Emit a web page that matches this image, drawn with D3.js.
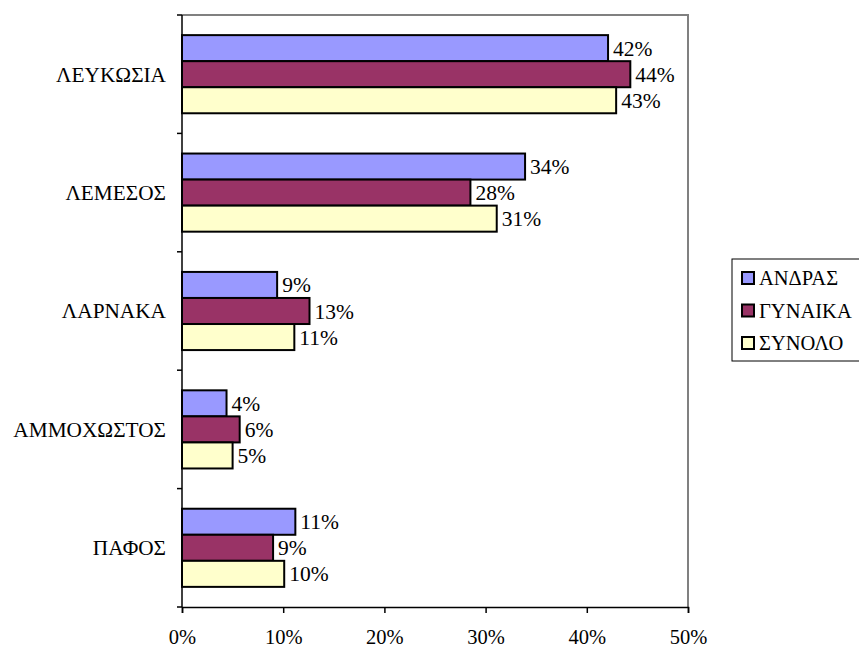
<!DOCTYPE html>
<html>
<head>
<meta charset="utf-8">
<script src="https://cdn.jsdelivr.net/npm/d3@7.9.0/dist/d3.min.js"></script>
<style>
  body { margin: 0; background: #fff; }
  text { font-family: "Liberation Serif", serif !important; }
</style>
</head>
<body>
<svg id="chart" width="859" height="649" font-family="Liberation Serif"></svg>
<script>
// data
const regions = ['ΛΕΥΚΩΣΙΑ', 'ΛΕΜΕΣΟΣ', 'ΛΑΡΝΑΚΑ', 'ΑΜΜΟΧΩΣΤΟΣ', 'ΠΑΦΟΣ'];
const seriesNames = ['ΑΝΔΡΑΣ', 'ΓΥΝΑΙΚΑ', 'ΣΥΝΟΛΟ'];
const andras = [0.421, 0.339, 0.094, 0.044, 0.112];
const gynaika = [0.443, 0.285, 0.126, 0.057, 0.090];
const synolo = [0.429, 0.311, 0.111, 0.050, 0.101];
const xTicks = [0, 0.1, 0.2, 0.3, 0.4, 0.5];
const colors = ['#9999ff', '#993366', '#ffffcc'];

const series = [andras, gynaika, synolo];

const svg = d3.select('#chart');
const plot = { left: 182, top: 15, right: 688, bottom: 607 };

const x = d3.scaleLinear().domain([0, 0.5]).range([plot.left, plot.right]);
const y0 = d3.scaleBand().domain(regions).range([plot.top, plot.bottom]);
// bars fill the middle of each band, gap on both sides
const gap = y0.bandwidth() * 0.17;
const y1 = d3.scaleBand().domain(seriesNames).range([gap, y0.bandwidth() - gap]);

const pct = d3.format('.0%');

// plot frame (grey top / right)
svg.append('path')
  .attr('d', `M${plot.left},${plot.top}H${plot.right}V${plot.bottom}`)
  .attr('fill', 'none')
  .attr('stroke', '#808080')
  .attr('stroke-width', 2);

// bars
regions.forEach((r, i) => {
  const g = svg.append('g').attr('transform', `translate(0,${y0(r)})`);
  seriesNames.forEach((s, j) => {
    const v = series[j][i];
    g.append('rect')
      .attr('x', x(0))
      .attr('y', y1(s))
      .attr('width', x(v) - x(0))
      .attr('height', y1.bandwidth())
      .attr('fill', colors[j])
      .attr('stroke', '#000')
      .attr('stroke-width', 2);
    g.append('text')
      .attr('x', x(v) + 5)
      .attr('y', y1(s) + y1.bandwidth() / 2)
      .attr('dy', '0.35em')
      .attr('font-size', 21.5)
      .text(pct(v));
  });
});

// y axis: ticks at band boundaries
const yAxis = svg.append('g');
yAxis.append('line')
  .attr('x1', plot.left).attr('x2', plot.left)
  .attr('y1', plot.top).attr('y2', plot.bottom)
  .attr('stroke', '#000').attr('stroke-width', 1.5);
const bounds = regions.map(r => y0(r)).concat([plot.bottom]);
yAxis.selectAll('.tk').data(bounds).join('line')
  .attr('x1', plot.left - 5).attr('x2', plot.left)
  .attr('y1', d => d).attr('y2', d => d)
  .attr('stroke', '#000').attr('stroke-width', 1.5);
yAxis.selectAll('text').data(regions).join('text')
  .attr('x', plot.left - 16)
  .attr('y', d => y0(d) + y0.bandwidth() / 2)
  .attr('dy', '0.35em')
  .attr('text-anchor', 'end')
  .attr('font-size', 21.3)
  .text(d => d);

// x axis
const xAxis = svg.append('g').attr('transform', `translate(0,${plot.bottom})`)
  .call(d3.axisBottom(x).tickValues(xTicks).tickFormat(pct).tickSize(6).tickPadding(16))
  .attr('font-family', null)
  .attr('font-size', 20.5);
xAxis.select('.domain').attr('stroke', '#000').attr('stroke-width', 1.5);
xAxis.selectAll('.tick line').attr('stroke', '#000').attr('stroke-width', 1.5);
xAxis.selectAll('.tick text').attr('fill', '#000');

// legend
const legend = svg.append('g').attr('transform', 'translate(732,259)');
legend.append('rect')
  .attr('width', 130).attr('height', 102)
  .attr('fill', '#fff').attr('stroke', '#000').attr('stroke-width', 1);
seriesNames.forEach((s, j) => {
  const cy = 19 + j * 32.5;
  legend.append('rect')
    .attr('x', 10).attr('y', cy - 6)
    .attr('width', 12).attr('height', 12)
    .attr('fill', colors[j]).attr('stroke', '#000').attr('stroke-width', 2);
  legend.append('text')
    .attr('x', 27).attr('y', cy)
    .attr('dy', '0.35em')
    .attr('font-size', 20.5)
    .text(s);
});
</script>
</body>
</html>
